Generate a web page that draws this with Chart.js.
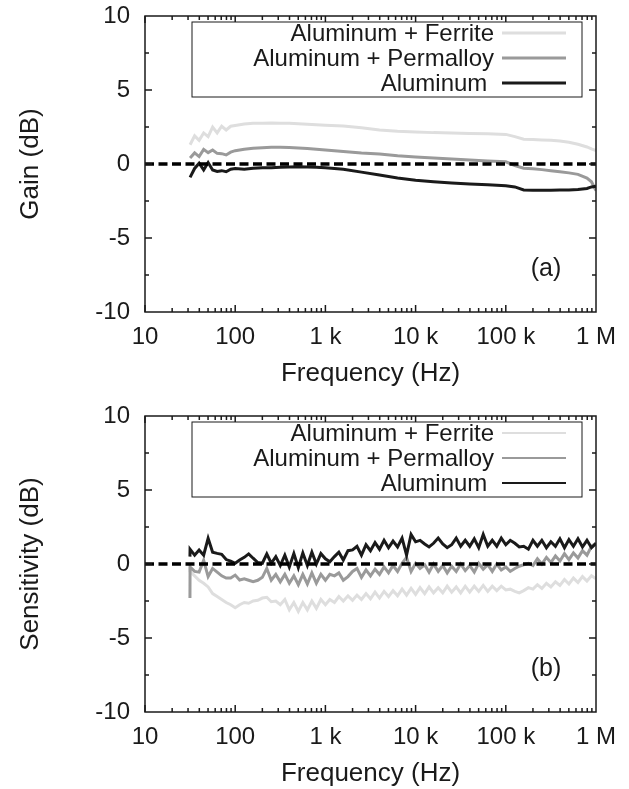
<!DOCTYPE html>
<html>
<head>
<meta charset="utf-8">
<script src="https://cdn.jsdelivr.net/npm/chart.js@4.4.0/dist/chart.umd.min.js"></script>
<style>
  html, body { margin: 0; padding: 0; background: #fff; overflow: hidden; }
  .panel { position: absolute; left: 0; width: 629px; height: 395px; }
  #panelA { top: 0; }
  #panelB { top: 400px; }
</style>
</head>
<body>
<div class="panel" id="panelA"><canvas id="chartA" width="629" height="395"></canvas></div>
<div class="panel" id="panelB"><canvas id="chartB" width="629" height="395"></canvas></div>
<script>
// x ticks (decades) and their labels
const tickValues = [10, 100, 1000, 10000, 100000, 1000000];
const tickLabels = ['10', '100', '1 k', '10 k', '100 k', '1 M'];
const seriesNames = ['Aluminum + Ferrite', 'Aluminum + Permalloy', 'Aluminum '];

// (a) gain, frequency in Hz
const freqA = [31.6, 35.5, 39.8, 44.7, 50.1, 56.2, 63.1, 70.8, 79.4, 89.1,
  100, 126, 158, 200, 251, 316, 398, 501, 631, 794,
  1000, 1580, 2510, 3980, 6310, 10000, 15800, 25100, 39800, 63100,
  100000, 126000, 158000, 200000, 251000, 316000, 398000, 501000, 631000, 794000, 891000, 1000000];
const gainFerrite = [1.3, 1.9, 1.6, 2.1, 1.85, 2.5, 2.1, 2.55, 2.3, 2.55,
  2.6, 2.7, 2.75, 2.76, 2.77, 2.76, 2.75, 2.72, 2.68, 2.65,
  2.62, 2.56, 2.45, 2.3, 2.22, 2.17, 2.12, 2.1, 2.06, 2.04,
  2.0, 1.85, 1.68, 1.65, 1.62, 1.6, 1.55, 1.47, 1.33, 1.15, 1.02, 0.9];
const gainPermalloy = [0.4, 0.75, 0.5, 0.99, 0.77, 0.95, 0.72, 0.7, 0.61, 0.8,
  0.9, 1.0, 1.07, 1.1, 1.13, 1.13, 1.12, 1.08, 1.05, 1.0,
  0.95, 0.85, 0.75, 0.68, 0.55, 0.48, 0.4, 0.33, 0.27, 0.2,
  0.15, -0.1, -0.28, -0.32, -0.38, -0.45, -0.52, -0.6, -0.7, -0.95, -1.2, -1.8];
const gainAluminum = [-0.9, -0.3, 0.05, -0.4, 0.1, -0.4, -0.5, -0.45, -0.52, -0.35,
  -0.3, -0.35, -0.28, -0.26, -0.25, -0.22, -0.2, -0.18, -0.2, -0.22,
  -0.25, -0.35, -0.55, -0.75, -0.95, -1.1, -1.2, -1.28, -1.35, -1.4,
  -1.47, -1.55, -1.75, -1.77, -1.77, -1.77, -1.76, -1.75, -1.72, -1.65, -1.55, -1.5];

// (b) sensitivity, frequency in Hz
const freqB = [31.5, 31.6, 35.5, 39.8, 44.7, 50.1, 56.2, 63.1, 70.8, 79.4, 89.1,
  100, 112, 126, 141, 158, 178, 200, 224, 251, 282, 316, 355, 398, 447, 501, 562, 631, 708, 794, 891,
  1000, 1120, 1260, 1410, 1580, 1780, 2000, 2240, 2510, 2820, 3160, 3550, 3980, 4470, 5010, 5620, 6310, 7080, 7940, 8910,
  10000, 11200, 12600, 14100, 15800, 17800, 20000, 22400, 25100, 28200, 31600, 35500, 39800, 44700, 50100, 56200, 63100, 70800, 79400, 89100,
  100000, 112000, 126000, 141000, 158000, 178000, 200000, 224000, 251000, 282000, 316000, 355000, 398000, 447000, 501000, 562000, 631000, 708000, 794000, 891000,
  1000000];
const sensFerrite = [-0.2, -0.5, -0.8, -1.1, -1.3, -1.55, -2.0, -2.2, -2.4, -2.6, -2.75,
  -2.95, -2.75, -2.6, -2.65, -2.5, -2.45, -2.3, -2.25, -2.55, -2.5, -2.75, -2.4, -3.1, -2.6, -3.2, -2.6, -3.1, -2.5, -3.0, -2.4,
  -2.75, -2.4, -2.6, -2.2, -2.5, -2.15, -2.45, -2.1, -2.4, -2.0, -2.35, -1.9, -2.3, -1.85, -2.2, -1.8, -2.15, -1.7, -2.1, -1.65,
  -2.05, -1.6, -2.0, -1.55, -1.95, -1.6, -1.95, -1.5, -1.9, -1.55, -1.95, -1.5, -1.9, -1.5, -1.85, -1.45, -1.85, -1.5, -1.8, -1.5,
  -1.75, -1.7, -1.85, -1.95, -1.8, -1.6, -1.7, -1.4, -1.65, -1.3, -1.55, -1.2, -1.45, -1.05, -1.35, -0.95, -1.25, -0.85, -1.15, -0.8,
  -1.0];
const sensPermalloy = [-2.3, -0.2, -0.5, -0.55, 0.25, -0.85, -0.3, -0.55, -0.8, -0.95, -0.95,
  -0.75, -1.08, -1.0, -1.1, -1.2, -1.1, -0.9, -0.3, -1.1, -0.7, -1.2, -0.7, -1.3, -0.8, -1.4, -0.7, -1.35, -0.6, -1.3, -0.7,
  -1.1, -0.7, -0.8, -0.6, -1.1, -0.85, -0.5, -0.3, -0.9, -0.4, -0.8, -0.35, -0.7, -0.2, -0.6, -0.1, -0.5, 0.05, 0.45, -0.5,
  0.05, -0.3, -0.05, -0.55, 0.0, -0.5, -0.1, -0.6, -0.15, -0.5, 0.0, -0.45, -0.1, -0.55, 0.05, -0.35, -0.05, -0.5, 0.0, -0.4,
  -0.2, -0.5, -0.3, -0.15, -0.05, 0.05, -0.1, 0.35, 0.0, 0.45, 0.1, 0.55, 0.2, 0.7, 0.3, 0.75, 0.4, 0.9, 0.6, 1.2,
  1.4];
const sensAluminum = [0.5, 1.0, 0.6, 0.95, 0.6, 1.74, 0.8, 0.72, 0.65, 0.3, 0.2,
  0.05, 0.27, 0.45, 0.68, 0.39, 0.1, 0.05, 0.68, 0.05, 0.5, -0.1, 0.6, -0.2, 0.7, -0.25, 0.75, -0.1, 0.8, 0.0, 0.7,
  0.35, 0.15, 0.5, 0.8, 0.27, 0.9, 0.95, 1.2, 0.6, 1.3, 0.9, 1.45, 1.0, 1.6, 1.1, 1.55, 1.15, 1.75, 0.6, 2.0,
  1.5, 1.6, 1.35, 1.15, 1.4, 1.75, 1.35, 1.1, 1.3, 1.75, 1.2, 1.6, 1.2, 1.7, 1.1, 2.0, 1.2, 1.6, 1.2, 1.75,
  1.3, 1.6, 1.4, 1.15, 1.2, 1.0, 1.6, 1.2, 1.6, 1.1, 1.5, 1.2, 1.7, 1.1, 1.65, 1.2, 1.7, 1.15, 1.6, 1.1,
  1.4];

const colors = ['#dedede', '#9a9a9a', '#1a1a1a'];
const textColor = '#1a1a1a';
const fontFamily = "'Liberation Sans', Arial, sans-serif";
Chart.defaults.font.family = fontFamily;
Chart.defaults.color = textColor;

function pts(xs, ys) {
  return xs.map((f, i) => ({ x: f, y: ys[i] }));
}

// box, inward ticks, panel tag and key
const framePlugin = {
  id: 'frame',
  afterDraw(chart, args, opts) {
    const { ctx, chartArea: a, scales: { x, y } } = chart;
    ctx.save();
    ctx.strokeStyle = textColor;
    ctx.lineWidth = 1.5;
    ctx.beginPath();
    for (let d = 10; d < 1e6; d *= 10) {
      for (let m = 1; m <= 9; m++) {
        const px = x.getPixelForValue(d * m);
        const len = m === 1 ? 7 : 4;
        ctx.moveTo(px, a.bottom); ctx.lineTo(px, a.bottom - len);
        ctx.moveTo(px, a.top); ctx.lineTo(px, a.top + len);
      }
    }
    for (let v = -7.5; v <= 7.5; v += 2.5) {
      const py = y.getPixelForValue(v);
      const len = v % 5 === 0 ? 7 : 4;
      ctx.moveTo(a.left, py); ctx.lineTo(a.left + len, py);
      ctx.moveTo(a.right, py); ctx.lineTo(a.right - len, py);
    }
    ctx.stroke();
    ctx.strokeRect(a.left, a.top, a.right - a.left, a.bottom - a.top);

    // panel tag
    ctx.fillStyle = textColor;
    ctx.font = '25px ' + fontFamily;
    ctx.textAlign = 'center';
    ctx.textBaseline = 'middle';
    ctx.fillText(opts.tag, a.right - 50, a.bottom - 43);

    // key box
    const bx = a.left + 47, bw = a.right - 14 - bx, by = a.top + 6, bh = 75;
    ctx.fillStyle = '#fff';
    ctx.fillRect(bx, by, bw, bh);
    ctx.lineWidth = 1;
    ctx.strokeRect(bx, by, bw, bh);
    ctx.font = '24px ' + fontFamily;
    const items = chart.data.datasets.filter(ds => ds.inKey).reverse();
    items.forEach((ds, i) => {
      const ry = by + 11 + i * 25;
      ctx.fillStyle = textColor;
      ctx.textAlign = 'right';
      ctx.fillText(ds.label, bx + bw - 88, ry + 1);
      ctx.strokeStyle = ds.borderColor;
      ctx.lineWidth = opts.keyWidth;
      ctx.beginPath();
      ctx.moveTo(bx + bw - 80, ry);
      ctx.lineTo(bx + bw - 16, ry);
      ctx.stroke();
    });
    ctx.restore();
  }
};

function makeChart(id, yTitle, tag, xs, series, lineWidth, keyWidth) {
  const datasets = [{
    label: 'zero',
    data: [{ x: 10, y: 0 }, { x: 1000000, y: 0 }],
    borderColor: '#000',
    borderWidth: 3.5,
    borderDash: [9, 4.5],
    pointRadius: 0
  }];
  // aluminum first so it is drawn above the gray curves
  for (let i = series.length - 1; i >= 0; i--) {
    datasets.push({
      label: seriesNames[i],
      inKey: true,
      data: pts(xs, series[i]),
      borderColor: colors[i],
      borderWidth: lineWidth,
      pointRadius: 0,
      tension: 0
    });
  }
  return new Chart(document.getElementById(id), {
    type: 'line',
    data: { datasets },
    options: {
      responsive: false,
      animation: false,
      events: [],
      layout: { padding: { top: 16, right: 33, left: 0, bottom: 0 } },
      scales: {
        x: {
          type: 'logarithmic',
          min: 10,
          max: 1000000,
          afterBuildTicks: scale => { scale.ticks = tickValues.map(v => ({ value: v })); },
          afterFit: scale => {
            scale.height = 83;
            scale.paddingLeft = 0;
            scale.paddingRight = 0;
          },
          grid: { display: false, drawTicks: false },
          border: { display: false },
          ticks: {
            autoSkip: false,
            maxRotation: 0,
            padding: 11,
            color: textColor,
            font: { size: 24 },
            callback: (v, i) => tickLabels[i]
          },
          title: {
            display: true,
            text: 'Frequency (Hz)',
            color: textColor,
            font: { size: 26 },
            padding: { top: 0, bottom: 6 }
          }
        },
        y: {
          min: -10,
          max: 10,
          afterFit: scale => {
            scale.width = 145;
            scale.paddingTop = 0;
            scale.paddingBottom = 0;
          },
          grid: { display: false, drawTicks: false },
          border: { display: false },
          ticks: {
            stepSize: 2.5,
            padding: 15,
            color: textColor,
            font: { size: 24 },
            callback: v => (v % 5 === 0 ? String(v) : '')
          },
          title: {
            display: true,
            text: yTitle,
            color: textColor,
            font: { size: 26 },
            padding: { top: 15, bottom: 0 }
          }
        }
      },
      plugins: {
        legend: { display: false },
        tooltip: { enabled: false },
        frame: { tag, keyWidth }
      }
    },
    plugins: [framePlugin]
  });
}

makeChart('chartA', 'Gain (dB)', '(a)', freqA, [gainFerrite, gainPermalloy, gainAluminum], 3, 3);
makeChart('chartB', 'Sensitivity (dB)', '(b)', freqB, [sensFerrite, sensPermalloy, sensAluminum], 3, 2);
</script>
</body>
</html>
